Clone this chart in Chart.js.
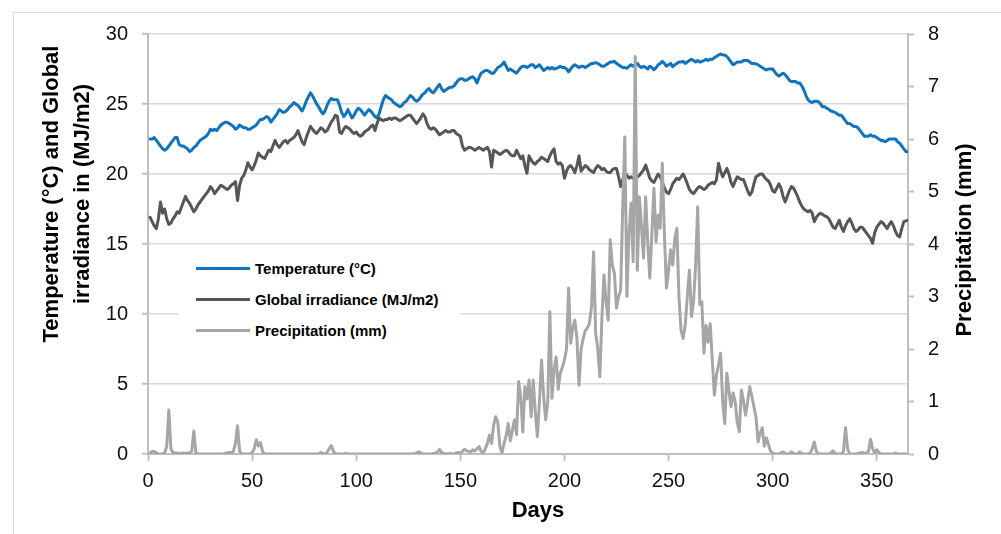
<!DOCTYPE html>
<html>
<head>
<meta charset="utf-8">
<script src="https://cdn.jsdelivr.net/npm/chart.js@4"></script>
<style>
  body { margin: 0; background: #fff; }
  #wrap { position: relative; width: 1001px; height: 534px; overflow: hidden; font-family: "Liberation Sans", Arial, sans-serif; }
  #frame { position: absolute; left: 13px; top: 12px; width: 1100px; height: 700px; border: 1px solid #d9d9d9; }
  canvas { position: absolute; left: 0; top: 0; }
  #legend { position: absolute; left: 178px; top: 250px; width: 282px; height: 95px; background: #fff; }
  .item { position: absolute; left: 18px; height: 20px; display: flex; align-items: center; font-weight: bold; font-size: 15px; color: #000; }
  .swatch { width: 54px; height: 3px; margin-right: 5px; }
</style>
</head>
<body>
<div id="wrap">
  <div id="frame"></div>
  <canvas id="chart" width="1001" height="534"></canvas>
  <div id="legend"></div>
</div>
<script>
const seriesNames = ['Temperature (°C)', 'Global irradiance (MJ/m2)', 'Precipitation (mm)'];
const seriesColors = ['#0f74bd', '#565656', '#a6a6a6'];

// day of year, 1..365
const days = Array.from({ length: 365 }, (_, i) => i + 1);

const temperature = [
  22.5, 22.5, 22.6, 22.4, 22.2, 22.0, 21.8, 21.7, 21.8, 22.0,
  22.2, 22.4, 22.6, 22.6, 22.1, 22.0, 22.0, 21.9, 21.8, 21.6,
  21.7, 21.9, 22.0, 22.2, 22.4, 22.5, 22.6, 22.7, 22.9, 23.2,
  23.1, 23.2, 23.1, 23.3, 23.5, 23.6, 23.7, 23.7, 23.6, 23.5,
  23.4, 23.2, 23.3, 23.5, 23.4, 23.3, 23.3, 23.2, 23.2, 23.3,
  23.4, 23.5, 23.7, 23.9, 23.9, 24.0, 24.1, 24.0, 23.7, 23.9,
  24.1, 24.3, 24.6, 24.5, 24.4, 24.45, 24.6, 24.8, 24.9, 25.1,
  25.0, 24.9, 24.7, 24.5, 24.8, 25.2, 25.5, 25.8, 25.6, 25.3,
  25.0, 24.8, 24.5, 24.3, 24.5, 24.9, 25.2, 25.4, 25.3, 25.3,
  25.3, 24.9, 24.4, 24.1, 24.3, 24.6, 24.3, 24.0, 24.2, 24.5,
  24.7, 24.6, 24.4, 24.2, 24.4, 24.6, 24.5, 24.3, 24.1, 24.0,
  24.3, 24.8, 25.3, 25.6, 25.5, 25.4, 25.3, 25.1, 25.0, 24.9,
  24.8, 24.9, 25.1, 25.2, 25.4, 25.6, 25.5, 25.3, 25.2, 25.3,
  25.5, 25.7, 25.8, 26.0, 26.1, 25.9, 25.8, 26.0, 26.2, 26.4,
  26.1, 25.9, 26.0, 26.1, 26.2, 26.2, 26.3, 26.5, 26.7, 26.8,
  26.8, 26.7, 26.7, 26.8, 26.9, 26.95, 26.8, 26.5, 26.9, 27.2,
  27.3, 27.4, 27.4, 27.3, 27.2, 27.2, 27.4, 27.6, 27.7, 27.8,
  28.0, 27.7, 27.4, 27.5, 27.4, 27.3, 27.2, 27.4, 27.6, 27.7,
  27.7, 27.6, 27.7, 27.8, 27.8, 27.6, 27.7, 27.8, 27.6, 27.4,
  27.5, 27.6, 27.5, 27.6, 27.5, 27.55, 27.6, 27.7, 27.6, 27.6,
  27.5, 27.3, 27.5, 27.7, 27.8, 27.7, 27.6, 27.7, 27.7, 27.6,
  27.7, 27.8, 27.9, 27.9, 27.95, 27.9, 27.8, 27.7, 27.7, 27.8,
  27.9, 28.0, 28.0, 28.05, 27.9, 27.8, 27.7, 27.6, 27.6, 27.55,
  27.7, 27.8, 27.7, 27.8, 27.9, 27.7, 27.6, 27.7, 27.6, 27.5,
  27.7, 27.6, 27.45, 27.6, 27.8, 27.9, 28.04, 27.9, 27.7, 27.8,
  27.9, 27.67, 27.8, 27.9, 28.0, 28.0, 28.04, 27.9, 28.0, 28.1,
  28.2, 28.1, 28.0, 28.1, 28.0, 28.04, 28.1, 28.2, 28.1, 28.2,
  28.2, 28.3, 28.4, 28.5, 28.57, 28.5, 28.5, 28.4, 28.2, 28.0,
  27.8, 27.9, 28.0, 28.0, 28.0, 28.1, 28.1, 28.1, 28.0, 27.9,
  27.9, 27.86, 27.8, 27.7, 27.6, 27.5, 27.43, 27.5, 27.5, 27.5,
  27.3, 27.1, 27.0, 27.1, 27.2, 27.1, 26.9, 26.7, 26.6, 26.6,
  26.6, 26.5, 26.5, 26.3, 26.0, 25.6, 25.3, 25.17, 25.1, 25.2,
  25.2, 25.17, 25.0, 24.8, 24.8, 24.7, 24.6, 24.5, 24.45, 24.4,
  24.3, 24.2, 24.2, 24.0, 23.8, 23.6, 23.6, 23.5, 23.4, 23.4,
  23.3, 23.1, 22.9, 22.7, 22.7, 22.7, 22.8, 22.7, 22.7, 22.6,
  22.5, 22.4, 22.4, 22.3, 22.4, 22.5, 22.5, 22.5, 22.5, 22.3,
  22.2, 22.0, 21.8, 21.6, 21.6
];

const irradiance = [
  16.9, 16.6, 16.3, 16.1, 16.8, 18.0, 17.2, 17.5, 16.8, 16.4,
  16.5, 16.8, 17.0, 17.3, 17.2, 17.6, 18.0, 18.4, 18.1, 17.9,
  17.6, 17.3, 17.5, 17.8, 18.0, 18.2, 18.4, 18.6, 18.8, 19.1,
  18.9, 18.6, 18.8, 19.0, 19.2, 19.1, 19.0, 18.9, 19.0, 19.2,
  19.3, 19.45, 18.1, 19.2, 19.7, 19.9, 20.3, 20.8, 20.5, 20.3,
  20.6, 21.0, 21.5, 21.3, 21.2, 21.1, 21.4, 21.7, 21.6, 22.0,
  22.4, 22.1, 21.9, 22.1, 22.3, 22.4, 22.2, 22.4, 22.5, 22.6,
  22.8, 23.1, 22.7, 22.3, 22.1, 22.6, 23.0, 23.4, 23.2, 23.0,
  22.9, 23.1, 23.3, 23.2, 23.0, 23.1, 23.4, 23.7, 23.9, 24.2,
  24.1, 23.0, 22.9, 23.2, 23.4, 23.3, 23.2, 23.0, 22.9, 23.0,
  22.8, 22.7, 22.8, 23.0, 23.1, 23.2, 23.4, 23.5, 23.1, 23.6,
  24.0, 23.9, 23.8, 23.9, 23.9, 24.0, 23.9, 24.0, 24.0, 23.9,
  23.8, 23.9, 24.0, 24.1, 24.2, 24.2, 24.0, 23.8, 23.6, 23.8,
  24.0, 24.3, 24.1, 23.6, 23.3, 23.2, 23.3, 23.2, 23.0, 22.8,
  22.9, 23.0, 23.1, 23.0, 23.0, 23.1, 23.1, 22.9, 22.8, 22.7,
  22.0, 21.7, 21.8, 21.9, 21.9, 21.8, 21.7, 21.8, 21.9, 21.8,
  21.7, 21.8, 21.9, 21.6, 20.5, 21.7, 21.6, 21.5, 21.4, 21.5,
  21.6, 21.7, 21.6, 21.4, 21.3, 21.3, 21.7, 21.4, 21.1, 21.3,
  20.6, 20.05, 21.3, 21.0, 20.8, 20.7, 20.9, 21.0, 21.2, 21.1,
  21.0, 20.9, 21.3, 21.6, 21.8, 20.9, 20.7, 20.8, 20.6, 19.7,
  20.2, 20.5, 20.6, 20.4, 20.1, 20.6, 21.3, 20.2, 20.4, 20.6,
  20.5, 20.3, 20.2, 20.1, 20.4, 20.6, 20.5, 20.3, 20.4, 20.2,
  20.1, 20.1, 20.3, 20.4, 20.4, 19.8, 19.1, 19.6, 20.1, 19.9,
  19.7, 19.8, 19.7, 19.6, 19.8, 19.9, 20.1, 20.3, 20.64, 20.2,
  19.7, 19.5, 19.4, 19.7, 20.0, 19.8, 19.4, 19.0, 18.7, 18.6,
  18.9, 19.3, 19.5, 19.7, 19.6, 19.8, 20.0, 19.7, 19.3, 18.9,
  18.7, 18.6, 18.8, 19.0, 19.1, 19.0, 18.9, 19.0, 19.2, 19.3,
  19.4, 19.3, 19.6, 20.76, 20.2, 19.8, 20.1, 20.4, 20.0, 19.4,
  19.1, 19.5, 19.8, 19.7, 19.6, 19.6, 19.2, 18.8, 18.5, 18.7,
  19.3, 19.8, 19.9, 20.0, 20.0, 19.8, 19.6, 19.5, 19.2, 18.8,
  18.7, 19.0, 19.3, 19.0, 18.4, 18.0, 18.4, 18.8, 19.1, 19.0,
  18.7, 18.4, 18.0, 17.7, 17.5, 17.4, 17.3, 17.4, 17.2, 16.6,
  16.9, 17.1, 17.2, 17.1, 17.0, 16.95, 16.8, 16.5, 16.2, 16.1,
  16.4, 16.7, 16.2, 15.9, 16.3, 16.6, 16.8, 16.5, 16.1, 15.9,
  16.0, 16.2, 16.2, 16.0, 15.8, 15.6, 15.4, 15.05, 15.8, 16.2,
  16.4, 16.6, 16.5, 16.3, 16.1, 16.4, 16.6, 16.3, 15.9, 15.6,
  15.5, 16.1, 16.6, 16.65, 16.7
];

const precipitation = [
  0.02, 0.05, 0.05, 0.02, 0, 0, 0, 0.02, 0.15, 0.84,
  0.1, 0.02, 0.02, 0.02, 0.01, 0.01, 0.02, 0.01, 0.02, 0.02,
  0.05, 0.44, 0.02, 0, 0, 0, 0, 0, 0, 0,
  0, 0, 0, 0, 0, 0, 0.01, 0.02, 0.03, 0.02,
  0.05, 0.2, 0.54, 0.05, 0, 0, 0, 0, 0, 0.02,
  0.1, 0.27, 0.15, 0.22, 0.05, 0, 0, 0, 0, 0,
  0, 0, 0, 0, 0, 0, 0, 0, 0, 0,
  0, 0, 0, 0, 0, 0, 0, 0, 0, 0,
  0, 0, 0.03, 0.01, 0, 0.03, 0.1, 0.16, 0.05, 0.01,
  0, 0, 0, 0, 0.01, 0, 0, 0, 0, 0,
  0, 0, 0, 0, 0, 0, 0, 0, 0, 0,
  0, 0, 0, 0, 0, 0, 0, 0, 0, 0,
  0, 0, 0, 0, 0, 0, 0, 0.01, 0.02, 0.04,
  0.02, 0, 0, 0, 0, 0, 0.01, 0.02, 0.03, 0.09,
  0.03, 0.01, 0, 0, 0.01, 0, 0, 0.02, 0.03, 0.02,
  0.05, 0.09, 0.06, 0.05, 0.04, 0.08, 0.06, 0.1, 0.14, 0.05,
  0.02, 0.1, 0.2, 0.36, 0.2, 0.55, 0.71, 0.6, 0.15, 0.02,
  0.2, 0.35, 0.58, 0.25, 0.45, 0.65, 0.37, 1.38, 1.1, 0.42,
  1.28, 1.05, 1.41, 0.71, 1.41, 0.8, 0.33, 1.0, 1.79, 1.1,
  0.65, 1.0, 2.71, 1.06, 1.6, 1.85, 1.23, 1.54, 1.65, 1.79,
  2.0, 3.16, 2.11, 2.4, 2.55, 2.2, 1.31, 2.0, 2.2, 2.35,
  2.4, 2.49, 2.8, 3.85, 2.3, 2.01, 1.47, 2.6, 3.41, 2.9,
  2.55, 4.08, 3.6, 3.44, 2.78, 3.0, 3.12, 4.71, 6.04, 3.0,
  4.2, 4.78, 3.66, 7.57, 3.5, 4.9, 4.33, 3.73, 4.9, 4.04,
  3.35, 4.2, 5.06, 4.04, 4.55, 4.3, 5.54, 4.2, 3.16, 3.5,
  3.89, 3.6, 4.1, 4.3, 3.0, 2.36, 2.2, 2.45, 3.0, 3.5,
  2.62, 2.9, 3.6, 4.71, 2.85, 2.9, 1.92, 2.45, 2.13, 2.48,
  1.8, 1.12, 1.5, 1.7, 1.92, 1.0, 0.58, 1.54, 1.2, 0.9,
  1.16, 1.0, 0.6, 0.43, 1.22, 1.0, 0.74, 1.0, 1.28, 1.1,
  0.9, 0.7, 0.23, 0.4, 0.5, 0.15, 0.31, 0.18, 0.05, 0.02,
  0, 0, 0, 0.02, 0.04, 0.01, 0, 0, 0.04, 0.01,
  0, 0, 0.04, 0.01, 0, 0, 0, 0.02, 0.1, 0.23,
  0.05, 0, 0, 0, 0, 0, 0, 0.02, 0.06, 0.01,
  0, 0, 0, 0.05, 0.5, 0.1, 0, 0, 0, 0,
  0.01, 0.02, 0.03, 0.01, 0.02, 0.05, 0.28, 0.1, 0.02, 0.08,
  0.03, 0, 0, 0, 0, 0, 0, 0, 0.02, 0,
  0, 0, 0, 0, 0
];

const FONT = '"Liberation Sans", Arial, sans-serif';
const axisGrey = '#bfbfbf';

function toPoints(values) {
  return values.map((v, i) => ({ x: days[i], y: v }));
}

// axis titles drawn by hand so the right one reads bottom-to-top like the original
const axisTitles = {
  id: 'axisTitles',
  afterDraw(chart) {
    const ctx = chart.ctx;
    ctx.save();
    ctx.fillStyle = '#000';
    ctx.font = `bold 22px ${FONT}`;
    ctx.textAlign = 'center';
    ctx.textBaseline = 'middle';

    ctx.save();
    ctx.translate(67, 194);
    ctx.rotate(-Math.PI / 2);
    ctx.fillText('Temperature (°C) and Global', 0, -15.5);
    ctx.fillText('irradiance in (MJ/m2)', 0, 15.5);
    ctx.restore();

    ctx.save();
    ctx.translate(965, 240);
    ctx.rotate(-Math.PI / 2);
    ctx.fillText('Precipitation (mm)', 0, 0);
    ctx.restore();

    ctx.fillText('Days', 538, 511);
    ctx.restore();
  }
};

Chart.defaults.font.family = FONT;
Chart.defaults.color = '#111';

new Chart(document.getElementById('chart'), {
  type: 'line',
  data: {
    datasets: [
      {
        label: seriesNames[0],
        data: toPoints(temperature),
        borderColor: seriesColors[0],
        yAxisID: 'y',
        order: 2
      },
      {
        label: seriesNames[1],
        data: toPoints(irradiance),
        borderColor: seriesColors[1],
        yAxisID: 'y',
        order: 1
      },
      {
        label: seriesNames[2],
        data: toPoints(precipitation),
        borderColor: seriesColors[2],
        yAxisID: 'y2',
        order: 0
      }
    ]
  },
  options: {
    responsive: false,
    devicePixelRatio: 1,
    animation: false,
    layout: { padding: { top: 34, left: 0, right: 0, bottom: 0 } },
    elements: {
      point: { radius: 0 },
      line: { borderWidth: 3, tension: 0, borderJoinStyle: 'round', borderCapStyle: 'round' }
    },
    plugins: {
      legend: { display: false },
      tooltip: { enabled: false }
    },
    scales: {
      x: {
        type: 'linear',
        min: 0,
        max: 365,
        afterFit: (scale) => { scale.height = 80; },
        ticks: { stepSize: 50, includeBounds: false, padding: 8, font: { size: 20 }, color: '#111', maxRotation: 0 },
        grid: { drawOnChartArea: false, drawTicks: true, tickLength: 7, tickColor: axisGrey, tickWidth: 2 },
        border: { color: axisGrey, width: 2 }
      },
      y: {
        position: 'left',
        min: 0,
        max: 30,
        afterFit: (scale) => { scale.width = 148; },
        ticks: { stepSize: 5, padding: 14, font: { size: 20 }, color: '#111' },
        grid: { color: '#d9d9d9', lineWidth: 1.5, tickLength: 6, tickColor: axisGrey, tickWidth: 2 },
        border: { color: axisGrey, width: 2 }
      },
      y2: {
        position: 'right',
        min: 0,
        max: 8,
        afterFit: (scale) => { scale.width = 93; },
        ticks: { stepSize: 1, padding: 14, font: { size: 20 }, color: '#111' },
        grid: { drawOnChartArea: false, tickLength: 6, tickColor: axisGrey, tickWidth: 2 },
        border: { color: axisGrey, width: 2 }
      }
    }
  },
  plugins: [axisTitles]
});

const legend = document.getElementById('legend');
const rowTops = [8, 39, 70];
legend.innerHTML = seriesNames
  .map((name, i) => `
    <div class="item" style="top:${rowTops[i]}px">
      <span class="swatch" style="background:${seriesColors[i]}"></span>${name}
    </div>
  `)
  .join('');
</script>
</body>
</html>
